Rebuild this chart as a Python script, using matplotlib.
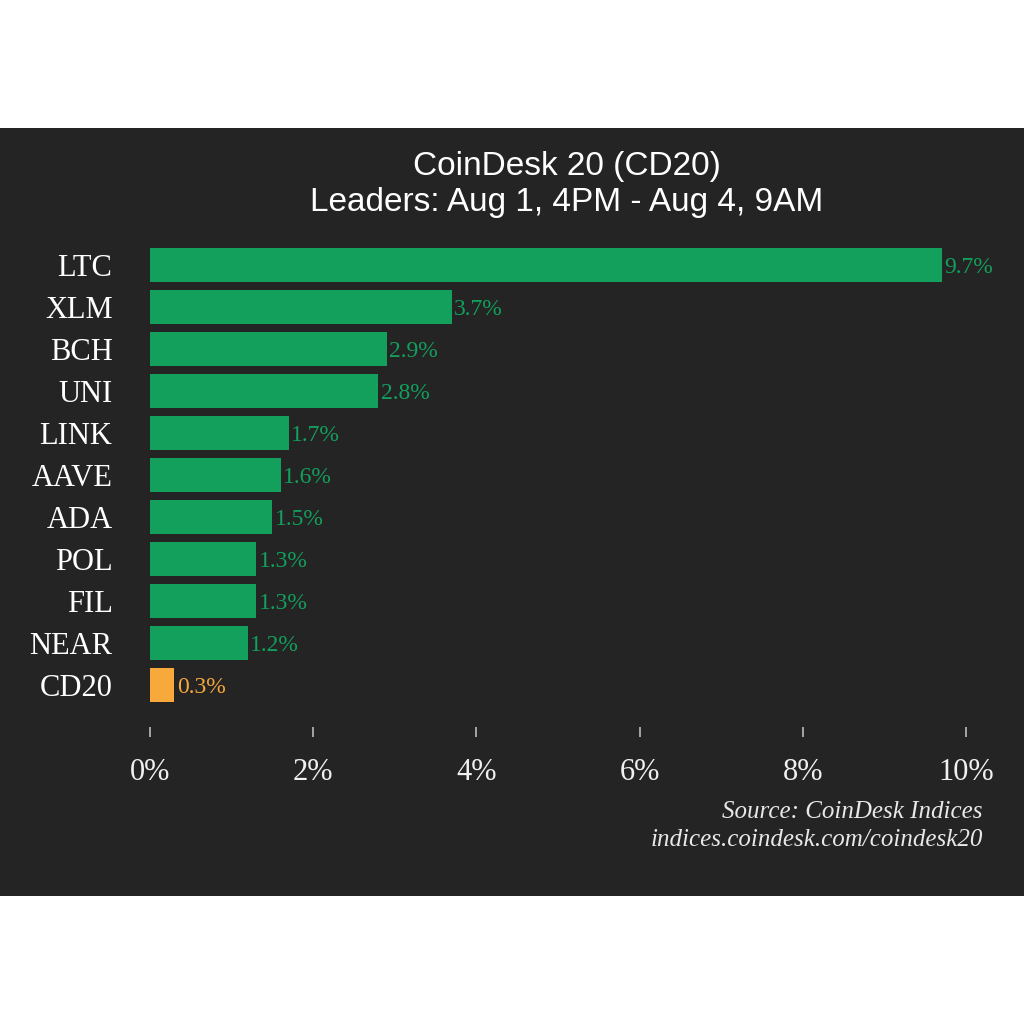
import matplotlib.pyplot as plt
from matplotlib.patches import Rectangle

# ─── Datos ────────────────────────────────────────────────────────────────────
coins = ["LTC", "XLM", "BCH", "UNI", "LINK", "AAVE", "ADA", "POL", "FIL", "NEAR", "CD20"]
changes = [9.7, 3.7, 2.9, 2.8, 1.7, 1.6, 1.5, 1.3, 1.3, 1.2, 0.3]
xticks = [0, 2, 4, 6, 8, 10]

BG = "#242424"
GREEN = "#12a05c"
ORANGE = "#f7a93b"
SERIF = ["Liberation Serif", "DejaVu Serif"]
SANS = ["Liberation Sans", "DejaVu Sans"]

fig = plt.figure(figsize=(10.24, 10.24), dpi=100, facecolor="white")
fig.patches.append(Rectangle((0, 0.125), 1, 0.75, transform=fig.transFigure,
                             facecolor=BG, edgecolor="none", zorder=-10))

# ejes: x 0..10 entre px 150 y 966, barras cada 42 px
ax = fig.add_axes([150 / 1024, 1 - 727 / 1024, 816 / 1024, 483 / 1024])
ax.set_facecolor("none")
ax.set_zorder(5)

colors = [ORANGE if c == "CD20" else GREEN for c in coins]
ypos = list(range(len(coins)))
ax.barh(ypos, changes, height=0.8, color=colors)

for y, v, c in zip(ypos, changes, colors):
    ax.text(v + 0.03, y, f"{v}%", va="center_baseline", ha="left", color=c,
            fontsize=17, family=SERIF)

ax.set_xlim(0, 10)
ax.set_ylim(11.0, -0.5)
ax.set_yticks(ypos)
ax.set_yticklabels(coins, family=SERIF, fontsize=22, color="white")
ax.set_xticks(xticks)
ax.set_xticklabels([f"{t}%" for t in xticks], family=SERIF, fontsize=22, color="#f0f0f0")
ax.tick_params(axis="y", length=0, pad=27)
ax.tick_params(axis="x", length=7, width=1.2, color="#bbbbbb", pad=15.5)
for s in ax.spines.values():
    s.set_visible(False)

fig.text(567 / 1024, 1 - 166 / 1024, "CoinDesk 20 (CD20)", ha="center", va="center",
         color="white", fontsize=24, family=SANS)
fig.text(567 / 1024, 1 - 203 / 1024, "Leaders: Aug 1, 4PM - Aug 4, 9AM", ha="center",
         va="center", color="white", fontsize=24, family=SANS)

fig.text(983 / 1024, 1 - 812 / 1024, "Source: CoinDesk Indices", ha="right", va="center",
         color="#e8e8e8", fontsize=18, style="italic", family=SERIF)
fig.text(983 / 1024, 1 - 840 / 1024, "indices.coindesk.com/coindesk20", ha="right",
         va="center", color="#e8e8e8", fontsize=18, style="italic", family=SERIF)

fig.savefig("out.png", dpi=100, facecolor="white")
